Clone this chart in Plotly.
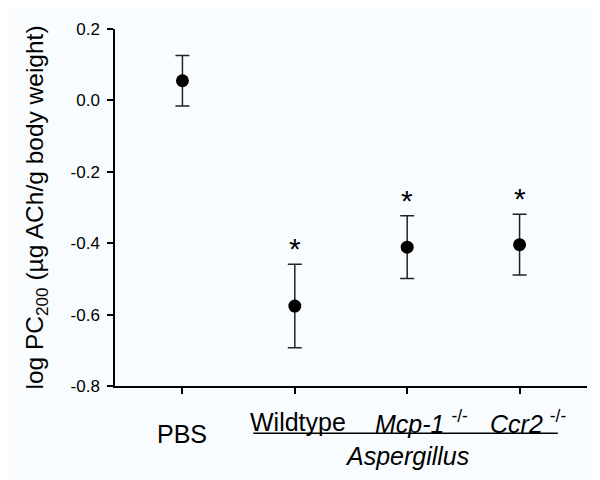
import plotly.graph_objects as go

categories = ["PBS", "Wildtype", "Mcp-1", "Ccr2"]
means = [0.055, -0.576, -0.411, -0.404]
errors = [0.071, 0.117, 0.088, 0.085]
significance = ["", "*", "*", "*"]
y_ticks = [0.2, 0.0, -0.2, -0.4, -0.6, -0.8]
y_tick_labels = ["0.2", "0.0", "-0.2", "-0.4", "-0.6", "-0.8"]

xpos = list(range(len(categories)))
bg = "#f8fcfe"
font_family = "Liberation Sans, Arial, sans-serif"

fig = go.Figure()
fig.add_trace(go.Scatter(
    x=xpos, y=means, mode="markers",
    marker=dict(color="black", size=13),
    error_y=dict(type="data", array=errors, visible=True,
                 color="#222222", thickness=1.5, width=7),
    showlegend=False,
))

annotations = []
for xi, m, e, s in zip(xpos, means, errors, significance):
    if s:
        annotations.append(dict(x=xi, y=m + e, xref="x", yref="y", text=s,
                                showarrow=False, yanchor="bottom", yshift=-3,
                                font=dict(size=30, color="black", family=font_family)))

label_texts = ["PBS", "Wildtype", "<i>Mcp-1</i> <sup>-/-</sup>", "<i>Ccr2</i> <sup>-/-</sup>"]
label_xoff = [0, 0.026, 0.125, 0.078]
label_yshift = [-48, -36, -36, -36]
for xi, t, dx, ys in zip(xpos, label_texts, label_xoff, label_yshift):
    annotations.append(dict(x=xi + dx, y=0, xref="x", yref="paper", text=t,
                            showarrow=False, yanchor="middle", yshift=ys,
                            font=dict(size=25, color="black", family=font_family)))
annotations.append(dict(x=2.0, y=0, xref="x", yref="paper", text="<i>Aspergillus</i>",
                        showarrow=False, yanchor="middle", yshift=-70,
                        font=dict(size=25, color="black", family=font_family)))

fig.update_layout(
    width=600, height=480,
    margin=dict(l=107, r=21, t=16, b=102),
    paper_bgcolor=bg, plot_bgcolor=bg,
    font=dict(family=font_family, color="black"),
    annotations=annotations,
    shapes=[dict(type="line", xref="x", yref="paper", x0=0.63, x1=3.34,
                 y0=-0.1326, y1=-0.1326, line=dict(color="black", width=1.5))],
    xaxis=dict(range=[-0.6, 3.6], tickvals=xpos, ticktext=[""] * len(xpos),
               showgrid=False, zeroline=False, showline=True, linecolor="black",
               linewidth=1.5, ticks="outside", ticklen=6, tickcolor="black", tickwidth=1.5),
    yaxis=dict(range=[-0.8, 0.2], tickvals=y_ticks, ticktext=y_tick_labels,
               showgrid=False, zeroline=False, showline=True, linecolor="black",
               linewidth=1.5, ticks="outside", ticklen=6, tickcolor="black", tickwidth=1.5,
               ticklabelstandoff=4,
               tickfont=dict(size=17, color="black"),
               title=dict(text="log PC<sub>200</sub> (µg ACh/g body weight)",
                          font=dict(size=24.5, color="black"), standoff=20)),
)

fig.write_html("out.html")
